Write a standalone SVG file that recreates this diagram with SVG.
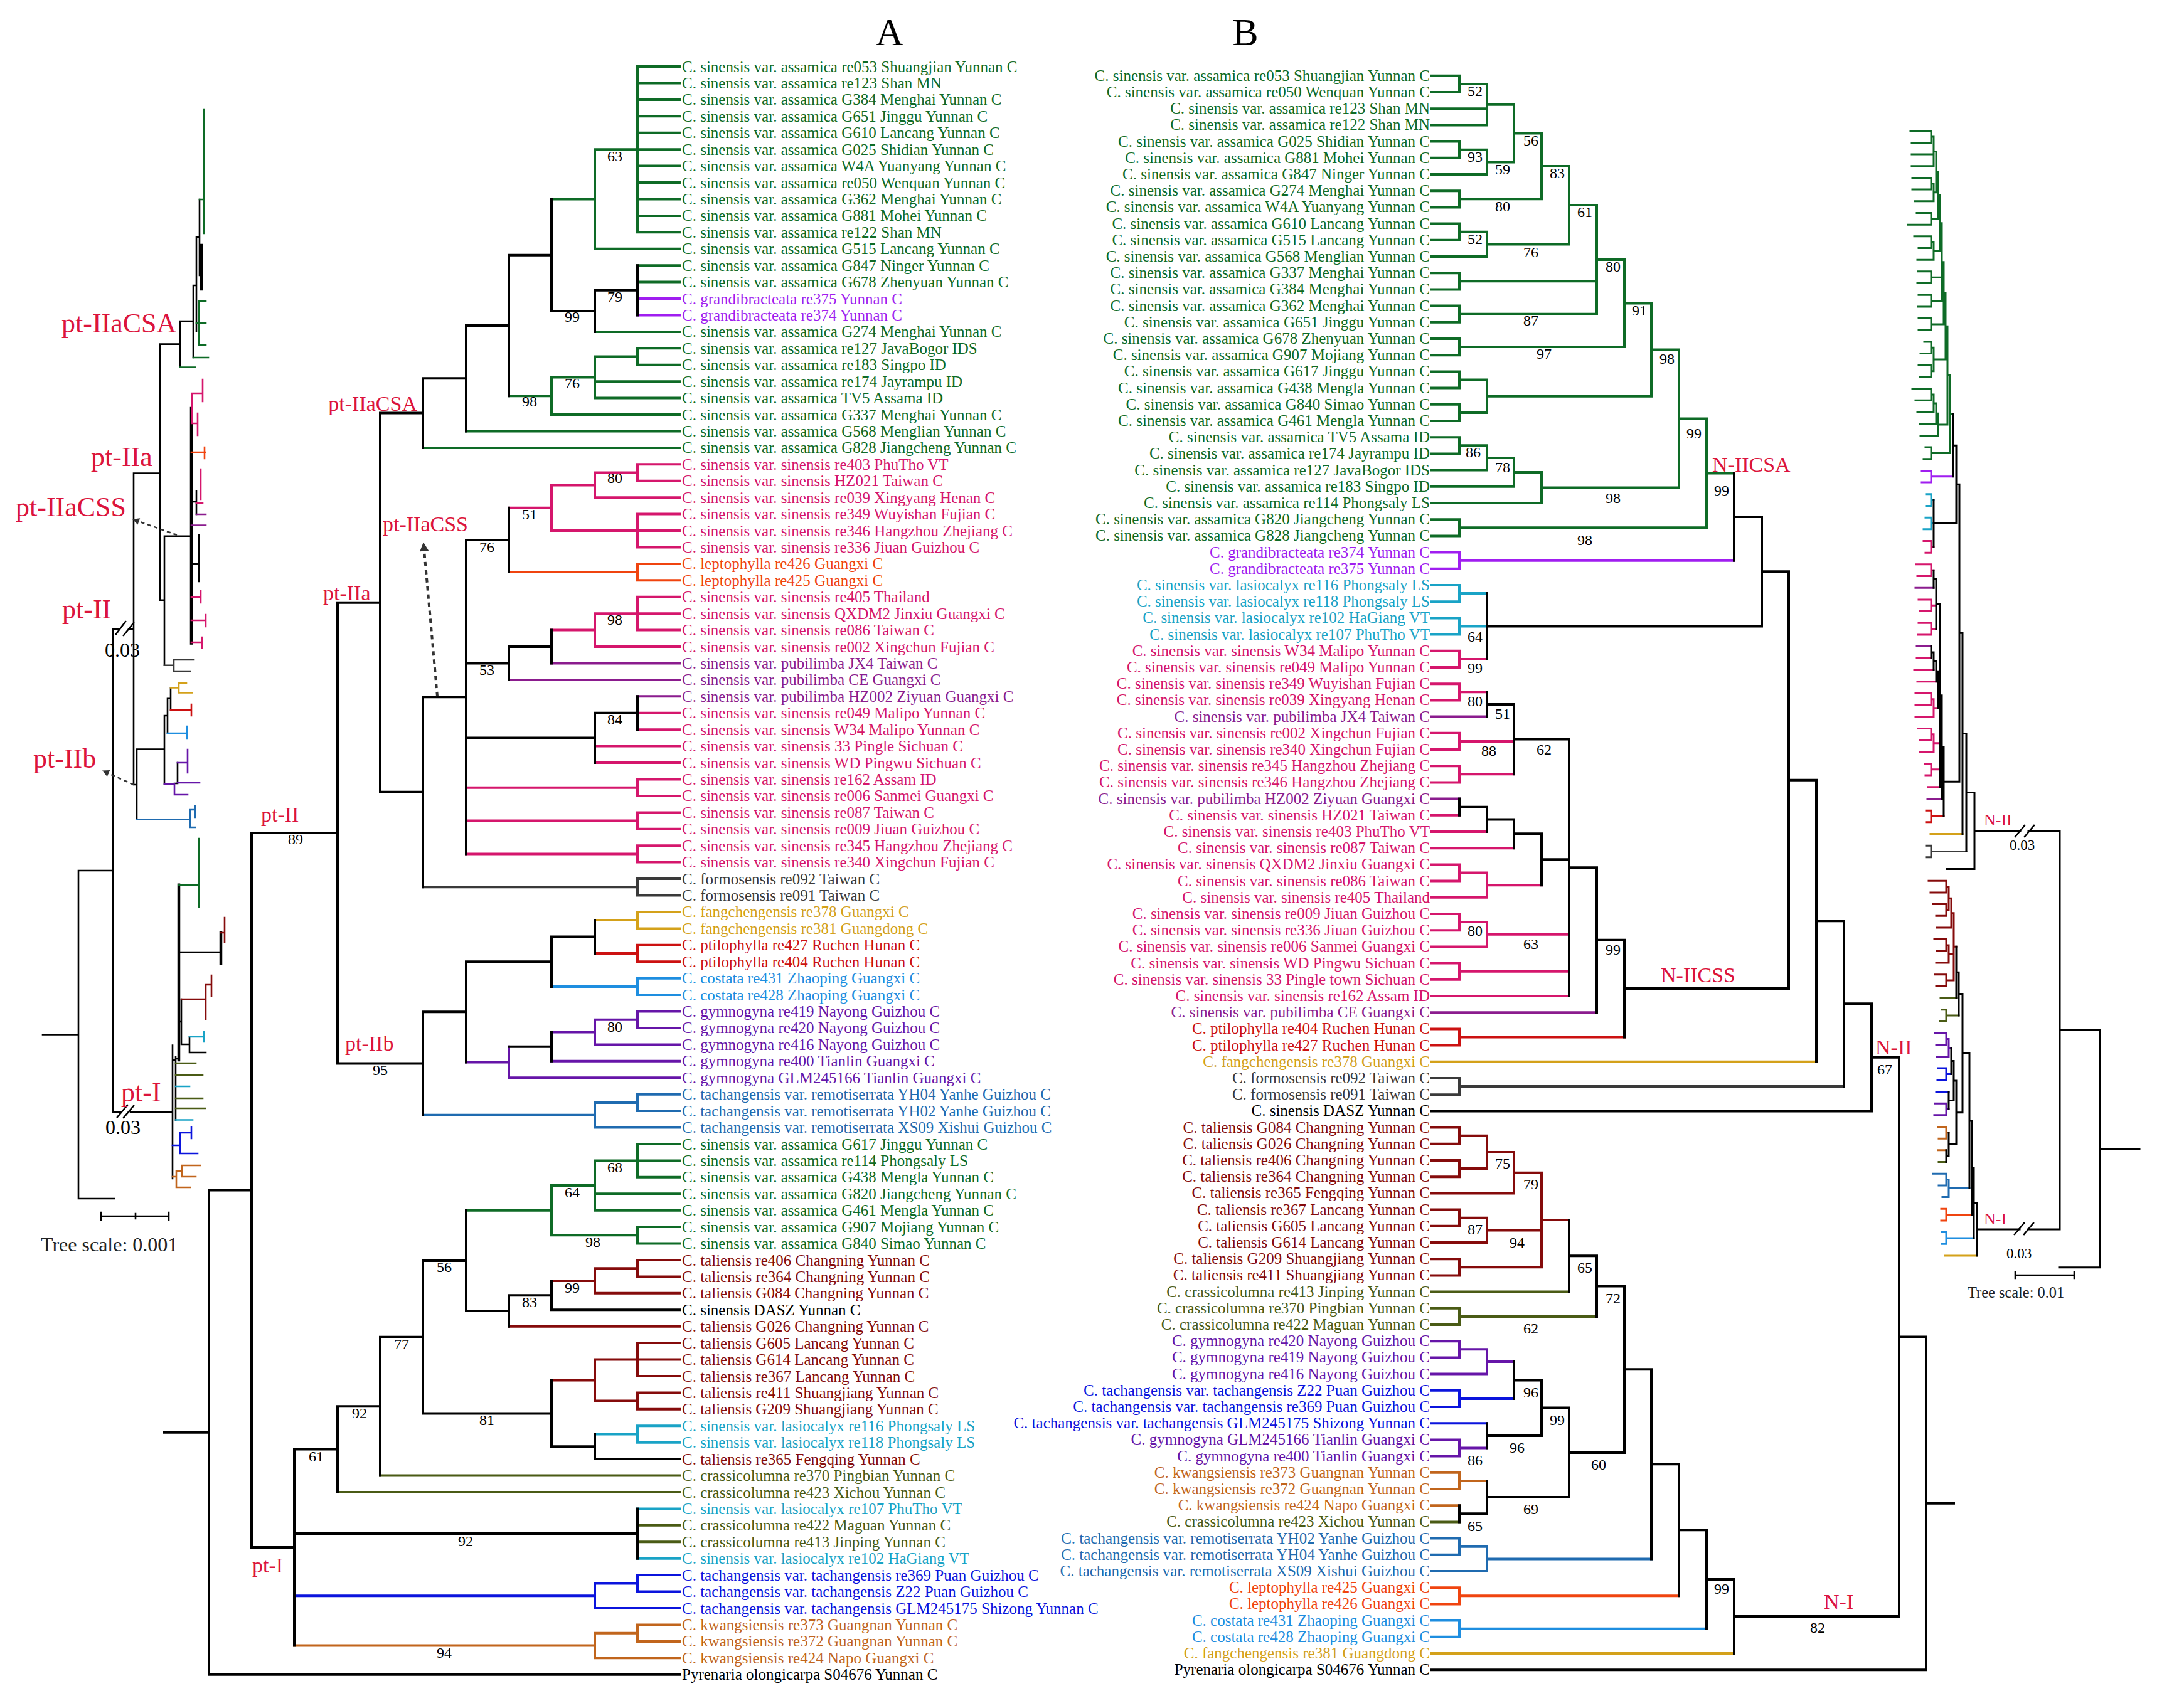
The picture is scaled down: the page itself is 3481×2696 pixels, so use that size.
<svg xmlns="http://www.w3.org/2000/svg" width="3481" height="2696" viewBox="0 0 3481 2696">
<defs>
<style>
path{fill:none;stroke-linecap:square;stroke-linejoin:miter}
.tr path{stroke-width:4}
.th path{stroke-width:3;vector-effect:non-scaling-stroke}
.tl path{stroke-width:2.6}
.sg{stroke:#0e6b26}.spu{stroke:#a01ef0}.spk{stroke:#d5166c}.spb{stroke:#8b1c8e}.sor{stroke:#f0440f}.sdg{stroke:#3a3a3a}.sgo{stroke:#d4a11a}.srd{stroke:#cc1111}.slb{stroke:#1e8ee0}.sgy{stroke:#6615a8}.ssb{stroke:#1f6bb0}.sdr{stroke:#850b0b}.scy{stroke:#19a3c6}.sol{stroke:#4a5b15}.sbl{stroke:#0b14dd}.sbr{stroke:#c1651c}.sk{stroke:#000}
.fg{fill:#0e6b26}.fpu{fill:#a01ef0}.fpk{fill:#d5166c}.fpb{fill:#8b1c8e}.for{fill:#f0440f}.fdg{fill:#3a3a3a}.fgo{fill:#d4a11a}.frd{fill:#cc1111}.flb{fill:#1e8ee0}.fgy{fill:#6615a8}.fsb{fill:#1f6bb0}.fdr{fill:#850b0b}.fcy{fill:#19a3c6}.fol{fill:#4a5b15}.fbl{fill:#0b14dd}.fbr{fill:#c1651c}.fk{fill:#000}
text{font-family:"Liberation Serif","Times New Roman",serif}
.t text{font-size:25px}
.ta text{text-anchor:start}
.tb text{text-anchor:end}
.bs text{font-size:24px;text-anchor:middle;fill:#000}
.cl text{font-size:34px;fill:#dc143c}
.cs text{font-size:44px;fill:#dc143c}
.ar{stroke:#333;stroke-width:3;stroke-dasharray:7 6;stroke-linecap:butt}
</style>
<marker id="ah" viewBox="0 0 10 10" refX="9" refY="5" markerWidth="18" markerHeight="14" markerUnits="userSpaceOnUse" orient="auto"><path d="M0 0L10 5L0 10z" style="fill:#333;stroke:none"/></marker>
<marker id="ah2" viewBox="0 0 10 10" refX="9" refY="5" markerWidth="13" markerHeight="11" markerUnits="userSpaceOnUse" orient="auto"><path d="M0 0L10 5L0 10z" style="fill:#333;stroke:none"/></marker>
</defs>
<rect width="3481" height="2696" fill="#fff"/>

<g id="headings" font-size="62"><text x="1418" y="72" text-anchor="middle">A</text><text x="1985" y="72" text-anchor="middle">B</text></g>

<g id="connectors">
<g id="treeA-branches" class="tr">
<path class="sg" d="M1016 106V370.3M948 238.2V396.7M1016 555.3V581.7M948 568.5V634.6M879 601.6V661M1016 1824V1876.8M948 1850.4V1929.7M1016 1956.1V1982.5M879 1890.1V1969.3M1016 106H1084M1016 132.4H1084M1016 158.9H1084M1016 185.3H1084M1016 211.7H1084M1016 238.2H1084M1016 264.6H1084M1016 291H1084M1016 317.4H1084M1016 343.9H1084M1016 370.3H1084M948 238.2H1016M948 396.7H1084M879 317.4H948M1016 423.2H1084M1016 449.6H1084M948 528.9H1084M1016 555.3H1084M1016 581.7H1084M948 568.5H1016M948 608.2H1084M948 634.6H1084M879 601.6H948M879 661H1084M811 631.3H879M743 687.5H1084M674 713.9H1084M1016 1824H1084M1016 1850.4H1084M1016 1876.8H1084M948 1850.4H1016M948 1903.2H1084M948 1929.7H1084M879 1890.1H948M1016 1956.1H1084M1016 1982.5H1084M879 1969.3H1016M743 1929.7H879"/>
<path class="spu" d="M1016 476H1084M1016 502.5H1084"/>
<path class="spk" d="M1016 740.3V766.8M948 753.5V793.2M1016 819.6V872.5M879 773.4V846M1016 951.8V1004.6M948 978.2V1031.1M1016 1242.5V1268.9M1016 1295.4V1321.8M1016 1348.2V1374.6M1016 740.3H1084M1016 766.8H1084M948 753.5H1016M948 793.2H1084M879 773.4H948M1016 819.6H1084M1016 846H1084M1016 872.5H1084M879 846H1016M811 809.7H879M1016 951.8H1084M1016 978.2H1084M1016 1004.6H1084M948 978.2H1016M948 1031.1H1084M879 1004.6H948M1016 1136.8H1084M1016 1163.2H1084M948 1189.6H1084M948 1216.1H1084M1016 1242.5H1084M1016 1268.9H1084M743 1255.7H1016M1016 1295.4H1084M1016 1321.8H1084M743 1308.6H1016M1016 1348.2H1084M1016 1374.6H1084M743 1361.4H1016"/>
<path class="sor" d="M1016 898.9V925.3M1016 898.9H1084M1016 925.3H1084M811 912.1H1016"/>
<path class="spb" d="M879 1057.5H1084M811 1083.9H1084M1016 1110.3H1084"/>
<path class="sdg" d="M1016 1401.1V1427.5M1016 1401.1H1084M1016 1427.5H1084M674 1414.3H1016"/>
<path class="sgo" d="M1016 1453.9V1480.4M1016 1453.9H1084M1016 1480.4H1084M948 1467.1H1016"/>
<path class="srd" d="M1016 1506.8V1533.2M1016 1506.8H1084M1016 1533.2H1084M948 1520H1016"/>
<path class="slb" d="M1016 1559.7V1586.1M1016 1559.7H1084M1016 1586.1H1084M879 1572.9H1016"/>
<path class="sgy" d="M1016 1612.5V1638.9M948 1625.7V1665.4M811 1668.7V1718.2M1016 1612.5H1084M1016 1638.9H1084M948 1625.7H1016M948 1665.4H1084M879 1645.6H948M879 1691.8H1084M811 1718.2H1084M743 1693.5H811"/>
<path class="ssb" d="M1016 1744.7V1771.1M948 1757.9V1797.5M1016 1744.7H1084M1016 1771.1H1084M948 1757.9H1016M948 1797.5H1084M674 1777.7H948"/>
<path class="sdr" d="M1016 2009V2035.4M948 2022.2V2061.8M1016 2141.1V2194M1016 2220.4V2246.8M948 2167.6V2233.6M1016 2009H1084M1016 2035.4H1084M948 2022.2H1016M948 2061.8H1084M879 2042H948M811 2114.7H1084M1016 2141.1H1084M1016 2167.5H1084M1016 2194H1084M948 2167.6H1016M1016 2220.4H1084M1016 2246.8H1084M948 2233.6H1016M879 2200.6H948"/>
<path class="scy" d="M1016 2273.3V2299.7M1016 2273.3H1084M1016 2299.7H1084M948 2286.5H1016M1016 2405.4H1084M1016 2484.7H1084"/>
<path class="sol" d="M606 2352.6H1084M538 2379H1084M1016 2431.8H1084M1016 2458.3H1084"/>
<path class="sbl" d="M1016 2511.1V2537.6M948 2524.4V2564M1016 2511.1H1084M1016 2537.6H1084M948 2524.4H1016M948 2564H1084M469 2544.2H948"/>
<path class="sbr" d="M1016 2590.4V2616.9M948 2603.7V2643.3M1016 2590.4H1084M1016 2616.9H1084M948 2603.7H1016M948 2643.3H1084M469 2623.5H948"/>
<path class="sk" d="M1016 423.2V502.5M948 462.8V528.9M879 317.4V495.9M811 406.7V631.3M743 519V687.5M674 603.3V713.9M811 809.7V912.1M879 1004.6V1057.5M811 1031.1V1083.9M1016 1110.3V1163.2M948 1136.8V1216.1M743 860.9V1361.4M674 1111.2V1414.3M606 658.6V1262.7M948 1467.1V1520M879 1493.6V1572.9M879 1645.6V1691.8M743 1533.2V1693.5M674 1613.3V1777.7M538 960.7V1695.5M879 2042V2088.3M811 2065.2V2114.7M743 1929.7V2090M948 2286.5V2326.1M879 2200.6V2306.3M674 2009.9V2253.5M606 2131.7V2352.6M538 2242.2V2379M1016 2405.4V2484.7M469 2310.6V2623.5M401 1328.1V2467.1M333 1897.6V2669.7M948 462.8H1016M879 495.9H948M811 406.7H879M743 519H811M674 603.3H743M606 658.6H674M743 860.9H811M811 1031.1H879M743 1057.5H811M948 1136.8H1016M743 1176.4H948M674 1111.2H743M606 1262.7H674M538 960.7H606M879 1493.6H948M743 1533.2H879M811 1668.7H879M674 1613.3H743M538 1695.5H674M401 1328.1H538M811 2065.2H879M743 2090H811M674 2009.9H743M879 2306.3H948M674 2253.5H879M606 2131.7H674M538 2242.2H606M469 2310.6H538M469 2445.1H1016M401 2467.1H469M333 1897.6H401M879 2088.3H1084M948 2326.1H1084M333 2669.7H1084M262 2283.7H333"/>
<path class="ar" d="M697 1110L675 866" marker-end="url(#ah)"/>
</g>

<g id="treeB-branches" class="tr">
<path class="sg" d="M2326 120.8V147M2370 133.9V199.4M2326 225.6V251.8M2370 238.7V278M2413 166.7V258.4M2326 304.2V330.4M2457 212.5V317.3M2326 356.6V382.8M2370 369.7V409M2501 264.9V389.4M2326 435.2V461.4M2326 487.6V513.8M2545 327.1V500.7M2326 540V566.2M2589 413.9V553.1M2326 592.4V618.6M2326 644.8V671M2370 605.5V657.9M2632 483.5V631.7M2326 697.2V723.4M2370 710.3V749.6M2413 730V775.8M2457 752.9V802M2676 557.6V777.5M2326 828.2V854.4M2720 667.5V841.3M2282 120.8H2326M2282 147H2326M2282 173.2H2370M2282 199.4H2370M2282 225.6H2326M2282 251.8H2326M2282 278H2370M2282 304.2H2326M2282 330.4H2326M2282 356.6H2326M2282 382.8H2326M2282 409H2370M2282 435.2H2326M2282 461.4H2326M2282 487.6H2326M2282 513.8H2326M2282 540H2326M2282 566.2H2326M2282 592.4H2326M2282 618.6H2326M2282 644.8H2326M2282 671H2326M2282 697.2H2326M2282 723.4H2326M2282 749.6H2370M2282 775.8H2413M2282 802H2457M2282 828.2H2326M2282 854.4H2326M2326 133.9H2370M2370 166.7H2413M2326 238.7H2370M2370 258.4H2413M2413 212.5H2457M2326 317.3H2457M2457 264.9H2501M2326 369.7H2370M2370 389.4H2501M2501 327.1H2545M2326 448.3H2545M2326 500.7H2545M2545 413.9H2589M2326 553.1H2589M2589 483.5H2632M2326 605.5H2370M2326 657.9H2370M2370 631.7H2632M2632 557.6H2676M2326 710.3H2370M2370 730H2413M2413 752.9H2457M2457 777.5H2676M2676 667.5H2720M2326 841.3H2720M2720 754.4H2764"/>
<path class="spu" d="M2326 880.6V906.8M2282 880.6H2326M2282 906.8H2326M2326 893.7H2764"/>
<path class="scy" d="M2326 933V959.2M2326 985.4V1011.6M2282 933H2326M2282 959.2H2326M2282 985.4H2326M2282 1011.6H2326M2326 946.1H2370M2326 998.5H2370"/>
<path class="spk" d="M2326 1037.8V1064M2282 1037.8H2326M2282 1064H2326M2326 1050.9H2370M2326 1090.2V1116.4M2282 1090.2H2326M2282 1116.4H2326M2326 1103.3H2370M2326 1168.8V1195M2282 1168.8H2326M2282 1195H2326M2326 1181.9H2413M2326 1221.2V1247.4M2282 1221.2H2326M2282 1247.4H2326M2326 1234.3H2413M2282 1299.8H2326M2282 1326H2370M2282 1352.2H2413M2326 1378.4V1404.6M2370 1391.5V1430.8M2282 1378.4H2326M2282 1404.6H2326M2282 1430.8H2370M2326 1391.5H2370M2370 1411.2H2457M2326 1457V1483.2M2370 1470.1V1509.4M2282 1457H2326M2282 1483.2H2326M2282 1509.4H2370M2326 1470.1H2370M2370 1489.8H2501M2326 1535.6V1561.8M2282 1535.6H2326M2282 1561.8H2326M2326 1548.7H2501M2282 1588H2501"/>
<path class="spb" d="M2282 1142.6H2370M2282 1273.6H2326M2282 1614.2H2545"/>
<path class="srd" d="M2326 1640.4V1666.6M2282 1640.4H2326M2282 1666.6H2326M2326 1653.5H2589"/>
<path class="sgo" d="M2282 1692.8H2895M2282 2636H2764"/>
<path class="sdg" d="M2326 1719V1745.2M2282 1719H2326M2282 1745.2H2326M2326 1732.1H2939"/>
<path class="sdr" d="M2326 1797.6V1823.8M2326 1850V1876.2M2370 1810.7V1863.1M2413 1836.9V1902.4M2326 1928.6V1954.8M2370 1941.7V1981M2326 2007.2V2033.4M2457 1869.7V2020.3M2282 1797.6H2326M2282 1823.8H2326M2282 1850H2326M2282 1876.2H2326M2326 1810.7H2370M2326 1863.1H2370M2370 1836.9H2413M2282 1902.4H2413M2413 1869.7H2457M2282 1928.6H2326M2282 1954.8H2326M2326 1941.7H2370M2282 1981H2370M2370 1961.4H2457M2282 2007.2H2326M2282 2033.4H2326M2326 2020.3H2457M2457 1945H2501"/>
<path class="sol" d="M2282 2059.6H2501M2326 2085.8V2112M2282 2085.8H2326M2282 2112H2326M2326 2098.9H2545M2282 2426.4H2326"/>
<path class="sgy" d="M2326 2138.2V2164.4M2370 2151.3V2190.6M2282 2138.2H2326M2282 2164.4H2326M2326 2151.3H2370M2282 2190.6H2370M2370 2171H2413M2326 2295.4V2321.6M2282 2295.4H2326M2282 2321.6H2326M2326 2308.5H2370"/>
<path class="sbl" d="M2326 2216.8V2243M2282 2216.8H2326M2282 2243H2326M2326 2229.9H2413M2282 2269.2H2370"/>
<path class="sbr" d="M2326 2347.8V2374M2282 2347.8H2326M2282 2374H2326M2326 2360.9H2370M2282 2400.2H2326"/>
<path class="ssb" d="M2326 2452.6V2478.8M2370 2465.7V2505M2282 2452.6H2326M2282 2478.8H2326M2326 2465.7H2370M2282 2505H2370M2370 2485.4H2632"/>
<path class="sor" d="M2326 2531.2V2557.4M2282 2531.2H2326M2282 2557.4H2326M2326 2544.3H2676"/>
<path class="slb" d="M2326 2583.6V2609.8M2282 2583.6H2326M2282 2609.8H2326M2326 2596.7H2720"/>
<path class="sk" d="M2764 754.4V893.7M2370 946.1V1050.9M2808 824.1V998.5M2370 1103.3V1142.6M2413 1123V1234.3M2326 1273.6V1299.8M2370 1286.7V1326M2413 1306.4V1352.2M2457 1329.3V1411.2M2501 1178.6V1588M2545 1383.3V1614.2M2589 1498.8V1653.5M2851 911.3V1576.1M2895 1243.7V1692.8M2939 1468.3V1732.1M2983 1600.2V1771.4M2501 1945V2059.6M2545 2002.3V2098.9M2413 2171V2229.9M2370 2269.2V2308.5M2457 2200.4V2288.9M2326 2400.2V2426.4M2370 2360.9V2413.3M2501 2244.6V2387.1M2589 2050.6V2315.9M2632 2183.2V2485.4M2676 2334.3V2544.3M2720 2439.3V2596.7M2764 2518V2636M3027 1685.8V2577M3070 2131.4V2662.2M2764 824.1H2808M2370 998.5H2808M2808 911.3H2851M2370 1123H2413M2413 1178.6H2501M2326 1286.7H2370M2370 1306.4H2413M2413 1329.3H2457M2457 1370.2H2501M2501 1383.3H2545M2545 1498.8H2589M2589 1576.1H2851M2851 1243.7H2895M2895 1468.3H2939M2939 1600.2H2983M2282 1771.4H2983M2983 1685.8H3027M2501 2002.3H2545M2545 2050.6H2589M2413 2200.4H2457M2370 2288.9H2457M2457 2244.6H2501M2326 2413.3H2370M2370 2387.1H2501M2501 2315.9H2589M2589 2183.2H2632M2632 2334.3H2676M2676 2439.3H2720M2720 2518H2764M2764 2577H3027M3027 2131.4H3070M2282 2662.2H3070M3070 2396.8H3114"/>
</g>

<g id="thumb-right-branches" class="th" transform="matrix(1 0 0 0.71298 0 122.57)">
<path class="sg" d="M3078 120.8V147M3082 133.9V199.4M3078 225.6V251.8M3082 238.7V278M3086 166.7V258.4M3078 304.2V330.4M3089 212.5V317.3M3078 356.6V382.8M3082 369.7V409M3092 264.9V389.4M3078 435.2V461.4M3078 487.6V513.8M3095 327.1V500.7M3078 540V566.2M3098 413.9V553.1M3078 592.4V618.6M3078 644.8V671M3082 605.5V657.9M3101 483.5V631.7M3078 697.2V723.4M3082 710.3V749.6M3086 730V775.8M3089 752.9V802M3104 557.6V777.5M3078 828.2V854.4M3108 667.5V841.3M3045 120.8H3078M3047 147H3078M3047 173.2H3082M3047 199.4H3082M3048 225.6H3078M3048 251.8H3078M3052 278H3082M3055 304.2H3078M3041 330.4H3078M3051 356.6H3078M3058 382.8H3078M3056 409H3082M3057 435.2H3078M3056 461.4H3078M3058 487.6H3078M3057 513.8H3078M3058 540H3078M3058 566.2H3078M3067 592.4H3078M3061 618.6H3078M3058 644.8H3078M3060 671H3078M3048 697.2H3078M3053 723.4H3078M3056 749.6H3082M3060 775.8H3086M3061 802H3089M3069 828.2H3078M3066 854.4H3078M3078 133.9H3082M3082 166.7H3086M3078 238.7H3082M3082 258.4H3086M3086 212.5H3089M3078 317.3H3089M3089 264.9H3092M3078 369.7H3082M3082 389.4H3092M3092 327.1H3095M3078 448.3H3095M3078 500.7H3095M3095 413.9H3098M3078 553.1H3098M3098 483.5H3101M3078 605.5H3082M3078 657.9H3082M3082 631.7H3101M3101 557.6H3104M3078 710.3H3082M3082 730H3086M3086 752.9H3089M3089 777.5H3104M3104 667.5H3108M3078 841.3H3108M3108 754.4H3113"/>
<path class="spu" d="M3078 880.6V906.8M3063 880.6H3078M3063 906.8H3078M3078 893.7H3113"/>
<path class="scy" d="M3078 933V959.2M3078 985.4V1011.6M3070 933H3078M3070 959.2H3078M3069 985.4H3078M3066 1011.6H3078M3078 946.1H3082M3078 998.5H3082"/>
<path class="spk" d="M3078 1037.8V1064M3066 1037.8H3078M3069 1064H3078M3078 1050.9H3082M3078 1090.2V1116.4M3054 1090.2H3078M3056 1116.4H3078M3078 1103.3H3082M3078 1168.8V1195M3058 1168.8H3078M3060 1195H3078M3078 1181.9H3086M3078 1221.2V1247.4M3058 1221.2H3078M3057 1247.4H3078M3078 1234.3H3086M3055 1299.8H3078M3051 1326H3082M3056 1352.2H3086M3078 1378.4V1404.6M3082 1391.5V1430.8M3053 1378.4H3078M3053 1404.6H3078M3053 1430.8H3082M3078 1391.5H3082M3082 1411.2H3089M3078 1457V1483.2M3082 1470.1V1509.4M3057 1457H3078M3060 1483.2H3078M3060 1509.4H3082M3078 1470.1H3082M3082 1489.8H3092M3078 1535.6V1561.8M3068 1535.6H3078M3069 1561.8H3078M3078 1548.7H3092M3073 1588H3092"/>
<path class="spb" d="M3053 1142.6H3082M3055 1273.6H3078M3072 1614.2H3095"/>
<path class="srd" d="M3078 1640.4V1666.6M3070 1640.4H3078M3070 1666.6H3078M3078 1653.5H3098"/>
<path class="sgo" d="M3077 1692.8H3128M3100 2636H3151"/>
<path class="sdg" d="M3078 1719V1745.2M3070 1719H3078M3070 1745.2H3078M3078 1732.1H3134"/>
<path class="sdr" d="M3102 1797.6V1823.8M3102 1850V1876.2M3106 1810.7V1863.1M3110 1836.9V1902.4M3102 1928.6V1954.8M3106 1941.7V1981M3102 2007.2V2033.4M3114 1869.7V2020.3M3074 1797.6H3102M3077 1823.8H3102M3081 1850H3102M3086 1876.2H3102M3102 1810.7H3106M3102 1863.1H3106M3106 1836.9H3110M3087 1902.4H3110M3110 1869.7H3114M3083 1928.6H3102M3087 1954.8H3102M3102 1941.7H3106M3086 1981H3106M3106 1961.4H3114M3084 2007.2H3102M3086 2033.4H3102M3102 2020.3H3114M3114 1945H3118"/>
<path class="sol" d="M3093 2059.6H3118M3102 2085.8V2112M3095 2085.8H3102M3092 2112H3102M3102 2098.9H3122M3090 2426.4H3102"/>
<path class="sgy" d="M3102 2138.2V2164.4M3106 2151.3V2190.6M3084 2138.2H3102M3086 2164.4H3102M3102 2151.3H3106M3087 2190.6H3106M3106 2171H3110M3102 2295.4V2321.6M3084 2295.4H3102M3083 2321.6H3102M3102 2308.5H3106"/>
<path class="sbl" d="M3102 2216.8V2243M3089 2216.8H3102M3088 2243H3102M3102 2229.9H3110M3086 2269.2H3106"/>
<path class="sbr" d="M3102 2347.8V2374M3089 2347.8H3102M3090 2374H3102M3102 2360.9H3106M3089 2400.2H3102"/>
<path class="ssb" d="M3102 2452.6V2478.8M3106 2465.7V2505M3081 2452.6H3102M3090 2478.8H3102M3102 2465.7H3106M3096 2505H3106M3106 2485.4H3139"/>
<path class="sor" d="M3102 2531.2V2557.4M3094 2531.2H3102M3094 2557.4H3102M3102 2544.3H3143"/>
<path class="slb" d="M3102 2583.6V2609.8M3095 2583.6H3102M3095 2609.8H3102M3102 2596.7H3146"/>
<path class="sk" d="M3113 754.4V893.7M3113 824.1H3118M3082 946.1V1050.9M3082 998.5H3118M3118 824.1V998.5M3118 911.3H3123M3082 1103.3V1142.6M3082 1123H3086M3086 1123V1234.3M3086 1178.6H3092M3078 1273.6V1299.8M3078 1286.7H3082M3082 1286.7V1326M3082 1306.4H3086M3086 1306.4V1352.2M3086 1329.3H3089M3089 1329.3V1411.2M3089 1370.2H3092M3092 1178.6V1588M3092 1383.3H3095M3095 1383.3V1614.2M3095 1498.8H3098M3098 1498.8V1653.5M3098 1576.1H3123M3123 911.3V1576.1M3123 1243.7H3128M3128 1243.7V1692.8M3128 1468.3H3134M3134 1468.3V1732.1M3134 1600.2H3147M3103 1771.4H3147M3147 1600.2V1771.4M3118 1945V2059.6M3118 2002.3H3122M3122 2002.3V2098.9M3122 2050.6H3128M3110 2171V2229.9M3110 2200.4H3114M3106 2269.2V2308.5M3106 2288.9H3114M3114 2200.4V2288.9M3114 2244.6H3118M3102 2400.2V2426.4M3102 2413.3H3106M3106 2360.9V2413.3M3106 2387.1H3118M3118 2244.6V2387.1M3118 2315.9H3128M3128 2050.6V2315.9M3128 2183.2H3139M3139 2183.2V2485.4M3139 2334.3H3143M3143 2334.3V2544.3M3143 2439.3H3146M3146 2439.3V2596.7M3146 2518H3151M3151 2518V2636M3147 1685.8H3220M3233 1685.8H3283M3151 2577H3219M3232 2577H3283M3283 1685.8V2577M3283 2131.4H3347M3282 2662.2H3347M3347 2131.4V2662.2M3347 2396.8H3410"/>
</g>
<g id="thumb-right-marks" class="tl">
<path class="sk" d="M3212 1334L3227 1316M3227 1334L3242 1316M3211 1968L3226 1950M3226 1968L3241 1950M3212 2033H3306M3212 2028V2038M3306 2028V2038"/>
</g>

<g id="thumb-left-branches" class="tl">
<path class="sk" d="M68 1649.5H125M125 1388V1911M125 1388H180M125 1911H182M180 1003V1773M180 1003H189M205 1003H213M180 1773H192M208 1773H275M213 754.6V1251M213 754.6H255M213 1251H218M255 548.6V956.7M255 548.6H287M255 956.7H262M287 512V585.6M287 512H308M308 455V570M308 455H313M313 378V528M313 378H318M318 318V439M262 854.7V1060.7M262 854.7H305M313 783V820M305 800H313M317 853V927M305 899H317M218 1194.5V1306.6M218 1194.5H262M262 1141V1249.6M262 1141H267M267 1113.7V1169M267 1113.7H272M272 1096.5V1132M283 1216V1249M278 1249H283M275 1666.6V1879M275 1690H280M280 1685V1786M280 1688H285M285 1518H352M285 1629H289M289 1593V1665M289 1665H302M302 1653V1678M302 1678H328M161 1939H269M161 1933V1945M269 1933V1945M216 1935V1943M185 1011L200 991M197 1013L213 993M187 1781L203 1762M197 1782L213 1763"/>
<path class="sk" style="stroke-width:4.5" d="M305 651V1025.6M285 1410.7V1690M321 391V461M352 1487V1536"/>
<path class="sg" d="M318 318H325M325 174V372M313 515H317M317 480V550M317 480H328M317 515H328M317 550H328M308 570H332M287 585.6H311M285 1410.7H316M317 1337V1446"/>
<path class="spk" d="M306 627V675M306 627H323M323 605V640M306 675H315M315 659V694M320 748V796M313 802H323M305 952H320M320 942V961M305 989H328M328 980V999M305 1024H322M322 1016V1033"/>
<path class="sor" d="M305 721H327M326 713V731"/>
<path class="spb" d="M313 820H328M305 837.5H328"/>
<path class="sdg" d="M262 1060.7H277M277 1052V1070M277 1052H309M277 1070H303"/>
<path class="sgo" d="M272 1096.5H285M285 1089V1104.5M285 1089H297M285 1104.5H306"/>
<path class="srd" d="M272 1132H305M305 1123V1141"/>
<path class="slb" d="M267 1169H298M298 1158V1178"/>
<path class="sgy" d="M262 1249.6H278M278 1249.6V1267M278 1267H299M283 1216H298M299 1195V1232M283 1248H318"/>
<path class="ssb" d="M218 1306.6H303M303 1291V1319M303 1291H311M311 1285V1303M303 1319H311"/>
<path class="sdr" d="M352 1487H358M358 1463V1502M289 1593H327M328 1570V1625M328 1570H337M337 1555V1588"/>
<path class="scy" d="M302 1653H325M325 1645V1661M280 1732H302M280 1785.5H307"/>
<path class="sol" d="M280 1695H312M280 1714H323M280 1751H323M280 1767H327"/>
<path class="sbl" d="M275 1826H287M287 1806V1839M287 1806H305M305 1797V1815M287 1839H315"/>
<path class="sbr" d="M275 1876H281M281 1867V1893M281 1893H303M281 1867H290M290 1858V1876M290 1858H319M290 1876H312"/>
<path class="ar" style="stroke-width:2.5;stroke-dasharray:6 5" d="M282 853L212 828" marker-end="url(#ah2)"/>
<path class="ar" style="stroke-width:2.5;stroke-dasharray:6 5" d="M213 1251L164 1229" marker-end="url(#ah2)"/>
</g>
</g>

<g id="thumb-left-labels">
<g class="cs"><text x="98" y="530">pt-IIaCSA</text><text x="145" y="743">pt-IIa</text><text x="25" y="823">pt-IIaCSS</text><text x="99" y="986">pt-II</text><text x="53" y="1224">pt-IIb</text><text x="193" y="1756">pt-I</text></g>
<text x="167" y="1047" font-size="32">0.03</text>
<text x="168" y="1808" font-size="32">0.03</text>
<text x="65" y="1995" font-size="32" fill="#222">Tree scale: 0.001</text>
</g>
<g id="thumb-right-labels">
<text x="3162" y="1316" font-size="26" fill="#dc143c">N-II</text>
<text x="3162" y="1952" font-size="26" fill="#dc143c">N-I</text>
<text x="3203" y="1355" font-size="23">0.03</text>
<text x="3198" y="2006" font-size="23">0.03</text>
<text x="3136" y="2069" font-size="24.4" fill="#222">Tree scale: 0.01</text>
</g>

<g id="treeA-clades" class="cl">
<text x="665" y="655" text-anchor="end">pt-IIaCSA</text>
<text x="610" y="847">pt-IIaCSS</text>
<text x="515" y="957">pt-IIa</text>
<text x="416" y="1310">pt-II</text>
<text x="550" y="1675">pt-IIb</text>
<text x="402" y="2507">pt-I</text>
</g>
<g id="treeB-clades" class="cl">
<text x="2729" y="752">N-IICSA</text>
<text x="2647" y="1566">N-IICSS</text>
<text x="2989" y="1681">N-II</text>
<text x="2907" y="2565">N-I</text>
</g>

<g id="treeA-support" class="bs">
<text x="980" y="257">63</text><text x="980" y="481">79</text><text x="912" y="513">99</text><text x="912" y="619">76</text><text x="844" y="648">98</text><text x="980" y="770">80</text><text x="844" y="828">51</text><text x="776" y="880">76</text><text x="980" y="996">98</text><text x="776" y="1076">53</text><text x="980" y="1155">84</text><text x="471" y="1346">89</text><text x="980" y="1645">80</text><text x="606" y="1714">95</text><text x="980" y="1869">68</text><text x="912" y="1909">64</text><text x="945" y="1988">98</text><text x="708" y="2028">56</text><text x="912" y="2061">99</text><text x="844" y="2084">83</text><text x="640" y="2151">77</text><text x="776" y="2272">81</text><text x="573" y="2261">92</text><text x="504" y="2330">61</text><text x="742" y="2465">92</text><text x="708" y="2643">94</text>
</g>
<g id="treeB-support" class="bs">
<text x="2351" y="153">52</text><text x="2351" y="258">93</text><text x="2395" y="278">59</text><text x="2440" y="232">56</text><text x="2395" y="337">80</text><text x="2482" y="284">83</text><text x="2351" y="389">52</text><text x="2440" y="410">76</text><text x="2526" y="346">61</text><text x="2440" y="519">87</text><text x="2571" y="433">80</text><text x="2461" y="572">97</text><text x="2613" y="503">91</text><text x="2657" y="580">98</text><text x="2348" y="729">86</text><text x="2395" y="753">78</text><text x="2571" y="802">98</text><text x="2700" y="699">99</text><text x="2526" y="869">98</text><text x="2744" y="790">99</text><text x="2351" y="1023">64</text><text x="2351" y="1073">99</text><text x="2351" y="1126">80</text><text x="2395" y="1146">51</text><text x="2373" y="1205">88</text><text x="2461" y="1203">62</text><text x="2351" y="1492">80</text><text x="2440" y="1513">63</text><text x="2571" y="1522">99</text><text x="3004" y="1713">67</text><text x="2395" y="1863">75</text><text x="2440" y="1896">79</text><text x="2351" y="1968">87</text><text x="2418" y="1989">94</text><text x="2526" y="2029">65</text><text x="2440" y="2126">62</text><text x="2571" y="2078">72</text><text x="2440" y="2228">96</text><text x="2418" y="2316">96</text><text x="2351" y="2336">86</text><text x="2482" y="2272">99</text><text x="2351" y="2441">65</text><text x="2440" y="2414">69</text><text x="2548" y="2343">60</text><text x="2744" y="2541">99</text><text x="2897" y="2603">82</text>
</g>

<g id="treeA-leaves" class="t ta">
<g id="A01" class="fg"><text x="1087" y="114.5">C. sinensis var. assamica re053 Shuangjian Yunnan C</text></g>
<g id="A02" class="fg"><text x="1087" y="140.9">C. sinensis var. assamica re123 Shan MN</text></g>
<g id="A03" class="fg"><text x="1087" y="167.4">C. sinensis var. assamica G384 Menghai Yunnan C</text></g>
<g id="A04" class="fg"><text x="1087" y="193.8">C. sinensis var. assamica G651 Jinggu Yunnan C</text></g>
<g id="A05" class="fg"><text x="1087" y="220.2">C. sinensis var. assamica G610 Lancang Yunnan C</text></g>
<g id="A06" class="fg"><text x="1087" y="246.7">C. sinensis var. assamica G025 Shidian Yunnan C</text></g>
<g id="A07" class="fg"><text x="1087" y="273.1">C. sinensis var. assamica W4A Yuanyang Yunnan C</text></g>
<g id="A08" class="fg"><text x="1087" y="299.5">C. sinensis var. assamica re050 Wenquan Yunnan C</text></g>
<g id="A09" class="fg"><text x="1087" y="325.9">C. sinensis var. assamica G362 Menghai Yunnan C</text></g>
<g id="A10" class="fg"><text x="1087" y="352.4">C. sinensis var. assamica G881 Mohei Yunnan C</text></g>
<g id="A11" class="fg"><text x="1087" y="378.8">C. sinensis var. assamica re122 Shan MN</text></g>
<g id="A12" class="fg"><text x="1087" y="405.2">C. sinensis var. assamica G515 Lancang Yunnan C</text></g>
<g id="A13" class="fg"><text x="1087" y="431.7">C. sinensis var. assamica G847 Ninger Yunnan C</text></g>
<g id="A14" class="fg"><text x="1087" y="458.1">C. sinensis var. assamica G678 Zhenyuan Yunnan C</text></g>
<g id="A15" class="fpu"><text x="1087" y="484.5">C. grandibracteata re375 Yunnan C</text></g>
<g id="A16" class="fpu"><text x="1087" y="511">C. grandibracteata re374 Yunnan C</text></g>
<g id="A17" class="fg"><text x="1087" y="537.4">C. sinensis var. assamica G274 Menghai Yunnan C</text></g>
<g id="A18" class="fg"><text x="1087" y="563.8">C. sinensis var. assamica re127 JavaBogor IDS</text></g>
<g id="A19" class="fg"><text x="1087" y="590.2">C. sinensis var. assamica re183 Singpo ID</text></g>
<g id="A20" class="fg"><text x="1087" y="616.7">C. sinensis var. assamica re174 Jayrampu ID</text></g>
<g id="A21" class="fg"><text x="1087" y="643.1">C. sinensis var. assamica TV5 Assama ID</text></g>
<g id="A22" class="fg"><text x="1087" y="669.5">C. sinensis var. assamica G337 Menghai Yunnan C</text></g>
<g id="A23" class="fg"><text x="1087" y="696">C. sinensis var. assamica G568 Menglian Yunnan C</text></g>
<g id="A24" class="fg"><text x="1087" y="722.4">C. sinensis var. assamica G828 Jiangcheng Yunnan C</text></g>
<g id="A25" class="fpk"><text x="1087" y="748.8">C. sinensis var. sinensis re403 PhuTho VT</text></g>
<g id="A26" class="fpk"><text x="1087" y="775.3">C. sinensis var. sinensis HZ021 Taiwan C</text></g>
<g id="A27" class="fpk"><text x="1087" y="801.7">C. sinensis var. sinensis re039 Xingyang Henan C</text></g>
<g id="A28" class="fpk"><text x="1087" y="828.1">C. sinensis var. sinensis re349 Wuyishan Fujian C</text></g>
<g id="A29" class="fpk"><text x="1087" y="854.5">C. sinensis var. sinensis re346 Hangzhou Zhejiang C</text></g>
<g id="A30" class="fpk"><text x="1087" y="881">C. sinensis var. sinensis re336 Jiuan Guizhou C</text></g>
<g id="A31" class="for"><text x="1087" y="907.4">C. leptophylla re426 Guangxi C</text></g>
<g id="A32" class="for"><text x="1087" y="933.8">C. leptophylla re425 Guangxi C</text></g>
<g id="A33" class="fpk"><text x="1087" y="960.3">C. sinensis var. sinensis re405 Thailand</text></g>
<g id="A34" class="fpk"><text x="1087" y="986.7">C. sinensis var. sinensis QXDM2 Jinxiu Guangxi C</text></g>
<g id="A35" class="fpk"><text x="1087" y="1013.1">C. sinensis var. sinensis re086 Taiwan C</text></g>
<g id="A36" class="fpk"><text x="1087" y="1039.6">C. sinensis var. sinensis re002 Xingchun Fujian C</text></g>
<g id="A37" class="fpb"><text x="1087" y="1066">C. sinensis var. pubilimba JX4 Taiwan C</text></g>
<g id="A38" class="fpb"><text x="1087" y="1092.4">C. sinensis var. pubilimba CE Guangxi C</text></g>
<g id="A39" class="fpb"><text x="1087" y="1118.8">C. sinensis var. pubilimba HZ002 Ziyuan Guangxi C</text></g>
<g id="A40" class="fpk"><text x="1087" y="1145.3">C. sinensis var. sinensis re049 Malipo Yunnan C</text></g>
<g id="A41" class="fpk"><text x="1087" y="1171.7">C. sinensis var. sinensis W34 Malipo Yunnan C</text></g>
<g id="A42" class="fpk"><text x="1087" y="1198.1">C. sinensis var. sinensis 33 Pingle Sichuan C</text></g>
<g id="A43" class="fpk"><text x="1087" y="1224.6">C. sinensis var. sinensis WD Pingwu Sichuan C</text></g>
<g id="A44" class="fpk"><text x="1087" y="1251">C. sinensis var. sinensis re162 Assam ID</text></g>
<g id="A45" class="fpk"><text x="1087" y="1277.4">C. sinensis var. sinensis re006 Sanmei Guangxi C</text></g>
<g id="A46" class="fpk"><text x="1087" y="1303.9">C. sinensis var. sinensis re087 Taiwan C</text></g>
<g id="A47" class="fpk"><text x="1087" y="1330.3">C. sinensis var. sinensis re009 Jiuan Guizhou C</text></g>
<g id="A48" class="fpk"><text x="1087" y="1356.7">C. sinensis var. sinensis re345 Hangzhou Zhejiang C</text></g>
<g id="A49" class="fpk"><text x="1087" y="1383.1">C. sinensis var. sinensis re340 Xingchun Fujian C</text></g>
<g id="A50" class="fdg"><text x="1087" y="1409.6">C. formosensis re092 Taiwan C</text></g>
<g id="A51" class="fdg"><text x="1087" y="1436">C. formosensis re091 Taiwan C</text></g>
<g id="A52" class="fgo"><text x="1087" y="1462.4">C. fangchengensis re378 Guangxi C</text></g>
<g id="A53" class="fgo"><text x="1087" y="1488.9">C. fangchengensis re381 Guangdong C</text></g>
<g id="A54" class="frd"><text x="1087" y="1515.3">C. ptilophylla re427 Ruchen Hunan C</text></g>
<g id="A55" class="frd"><text x="1087" y="1541.7">C. ptilophylla re404 Ruchen Hunan C</text></g>
<g id="A56" class="flb"><text x="1087" y="1568.2">C. costata re431 Zhaoping Guangxi C</text></g>
<g id="A57" class="flb"><text x="1087" y="1594.6">C. costata re428 Zhaoping Guangxi C</text></g>
<g id="A58" class="fgy"><text x="1087" y="1621">C. gymnogyna re419 Nayong Guizhou C</text></g>
<g id="A59" class="fgy"><text x="1087" y="1647.4">C. gymnogyna re420 Nayong Guizhou C</text></g>
<g id="A60" class="fgy"><text x="1087" y="1673.9">C. gymnogyna re416 Nayong Guizhou C</text></g>
<g id="A61" class="fgy"><text x="1087" y="1700.3">C. gymnogyna re400 Tianlin Guangxi C</text></g>
<g id="A62" class="fgy"><text x="1087" y="1726.7">C. gymnogyna GLM245166 Tianlin Guangxi C</text></g>
<g id="A63" class="fsb"><text x="1087" y="1753.2">C. tachangensis var. remotiserrata YH04 Yanhe Guizhou C</text></g>
<g id="A64" class="fsb"><text x="1087" y="1779.6">C. tachangensis var. remotiserrata YH02 Yanhe Guizhou C</text></g>
<g id="A65" class="fsb"><text x="1087" y="1806">C. tachangensis var. remotiserrata XS09 Xishui Guizhou C</text></g>
<g id="A66" class="fg"><text x="1087" y="1832.5">C. sinensis var. assamica G617 Jinggu Yunnan C</text></g>
<g id="A67" class="fg"><text x="1087" y="1858.9">C. sinensis var. assamica re114 Phongsaly LS</text></g>
<g id="A68" class="fg"><text x="1087" y="1885.3">C. sinensis var. assamica G438 Mengla Yunnan C</text></g>
<g id="A69" class="fg"><text x="1087" y="1911.7">C. sinensis var. assamica G820 Jiangcheng Yunnan C</text></g>
<g id="A70" class="fg"><text x="1087" y="1938.2">C. sinensis var. assamica G461 Mengla Yunnan C</text></g>
<g id="A71" class="fg"><text x="1087" y="1964.6">C. sinensis var. assamica G907 Mojiang Yunnan C</text></g>
<g id="A72" class="fg"><text x="1087" y="1991">C. sinensis var. assamica G840 Simao Yunnan C</text></g>
<g id="A73" class="fdr"><text x="1087" y="2017.5">C. taliensis re406 Changning Yunnan C</text></g>
<g id="A74" class="fdr"><text x="1087" y="2043.9">C. taliensis re364 Changning Yunnan C</text></g>
<g id="A75" class="fdr"><text x="1087" y="2070.3">C. taliensis G084 Changning Yunnan C</text></g>
<g id="A76" class="fk"><text x="1087" y="2096.8">C. sinensis DASZ Yunnan C</text></g>
<g id="A77" class="fdr"><text x="1087" y="2123.2">C. taliensis G026 Changning Yunnan C</text></g>
<g id="A78" class="fdr"><text x="1087" y="2149.6">C. taliensis G605 Lancang Yunnan C</text></g>
<g id="A79" class="fdr"><text x="1087" y="2176">C. taliensis G614 Lancang Yunnan C</text></g>
<g id="A80" class="fdr"><text x="1087" y="2202.5">C. taliensis re367 Lancang Yunnan C</text></g>
<g id="A81" class="fdr"><text x="1087" y="2228.9">C. taliensis re411 Shuangjiang Yunnan C</text></g>
<g id="A82" class="fdr"><text x="1087" y="2255.3">C. taliensis G209 Shuangjiang Yunnan C</text></g>
<g id="A83" class="fcy"><text x="1087" y="2281.8">C. sinensis var. lasiocalyx re116 Phongsaly LS</text></g>
<g id="A84" class="fcy"><text x="1087" y="2308.2">C. sinensis var. lasiocalyx re118 Phongsaly LS</text></g>
<g id="A85" class="fdr"><text x="1087" y="2334.6">C. taliensis re365 Fengqing Yunnan C</text></g>
<g id="A86" class="fol"><text x="1087" y="2361.1">C. crassicolumna re370 Pingbian Yunnan C</text></g>
<g id="A87" class="fol"><text x="1087" y="2387.5">C. crassicolumna re423 Xichou Yunnan C</text></g>
<g id="A88" class="fcy"><text x="1087" y="2413.9">C. sinensis var. lasiocalyx re107 PhuTho VT</text></g>
<g id="A89" class="fol"><text x="1087" y="2440.3">C. crassicolumna re422 Maguan Yunnan C</text></g>
<g id="A90" class="fol"><text x="1087" y="2466.8">C. crassicolumna re413 Jinping Yunnan C</text></g>
<g id="A91" class="fcy"><text x="1087" y="2493.2">C. sinensis var. lasiocalyx re102 HaGiang VT</text></g>
<g id="A92" class="fbl"><text x="1087" y="2519.6">C. tachangensis var. tachangensis re369 Puan Guizhou C</text></g>
<g id="A93" class="fbl"><text x="1087" y="2546.1">C. tachangensis var. tachangensis Z22 Puan Guizhou C</text></g>
<g id="A94" class="fbl"><text x="1087" y="2572.5">C. tachangensis var. tachangensis GLM245175 Shizong Yunnan C</text></g>
<g id="A95" class="fbr"><text x="1087" y="2598.9">C. kwangsiensis re373 Guangnan Yunnan C</text></g>
<g id="A96" class="fbr"><text x="1087" y="2625.4">C. kwangsiensis re372 Guangnan Yunnan C</text></g>
<g id="A97" class="fbr"><text x="1087" y="2651.8">C. kwangsiensis re424 Napo Guangxi C</text></g>
<g id="A98" class="fk"><text x="1087" y="2678.2">Pyrenaria olongicarpa S04676 Yunnan C</text></g>
</g>

<g id="treeB-leaves" class="t tb">
<g id="B01" class="fg"><text x="2279" y="128.8">C. sinensis var. assamica re053 Shuangjian Yunnan C</text></g>
<g id="B02" class="fg"><text x="2279" y="155">C. sinensis var. assamica re050 Wenquan Yunnan C</text></g>
<g id="B03" class="fg"><text x="2279" y="181.2">C. sinensis var. assamica re123 Shan MN</text></g>
<g id="B04" class="fg"><text x="2279" y="207.4">C. sinensis var. assamica re122 Shan MN</text></g>
<g id="B05" class="fg"><text x="2279" y="233.6">C. sinensis var. assamica G025 Shidian Yunnan C</text></g>
<g id="B06" class="fg"><text x="2279" y="259.8">C. sinensis var. assamica G881 Mohei Yunnan C</text></g>
<g id="B07" class="fg"><text x="2279" y="286">C. sinensis var. assamica G847 Ninger Yunnan C</text></g>
<g id="B08" class="fg"><text x="2279" y="312.2">C. sinensis var. assamica G274 Menghai Yunnan C</text></g>
<g id="B09" class="fg"><text x="2279" y="338.4">C. sinensis var. assamica W4A Yuanyang Yunnan C</text></g>
<g id="B10" class="fg"><text x="2279" y="364.6">C. sinensis var. assamica G610 Lancang Yunnan C</text></g>
<g id="B11" class="fg"><text x="2279" y="390.8">C. sinensis var. assamica G515 Lancang Yunnan C</text></g>
<g id="B12" class="fg"><text x="2279" y="417">C. sinensis var. assamica G568 Menglian Yunnan C</text></g>
<g id="B13" class="fg"><text x="2279" y="443.2">C. sinensis var. assamica G337 Menghai Yunnan C</text></g>
<g id="B14" class="fg"><text x="2279" y="469.4">C. sinensis var. assamica G384 Menghai Yunnan C</text></g>
<g id="B15" class="fg"><text x="2279" y="495.6">C. sinensis var. assamica G362 Menghai Yunnan C</text></g>
<g id="B16" class="fg"><text x="2279" y="521.8">C. sinensis var. assamica G651 Jinggu Yunnan C</text></g>
<g id="B17" class="fg"><text x="2279" y="548">C. sinensis var. assamica G678 Zhenyuan Yunnan C</text></g>
<g id="B18" class="fg"><text x="2279" y="574.2">C. sinensis var. assamica G907 Mojiang Yunnan C</text></g>
<g id="B19" class="fg"><text x="2279" y="600.4">C. sinensis var. assamica G617 Jinggu Yunnan C</text></g>
<g id="B20" class="fg"><text x="2279" y="626.6">C. sinensis var. assamica G438 Mengla Yunnan C</text></g>
<g id="B21" class="fg"><text x="2279" y="652.8">C. sinensis var. assamica G840 Simao Yunnan C</text></g>
<g id="B22" class="fg"><text x="2279" y="679">C. sinensis var. assamica G461 Mengla Yunnan C</text></g>
<g id="B23" class="fg"><text x="2279" y="705.2">C. sinensis var. assamica TV5 Assama ID</text></g>
<g id="B24" class="fg"><text x="2279" y="731.4">C. sinensis var. assamica re174 Jayrampu ID</text></g>
<g id="B25" class="fg"><text x="2279" y="757.6">C. sinensis var. assamica re127 JavaBogor IDS</text></g>
<g id="B26" class="fg"><text x="2279" y="783.8">C. sinensis var. assamica re183 Singpo ID</text></g>
<g id="B27" class="fg"><text x="2279" y="810">C. sinensis var. assamica re114 Phongsaly LS</text></g>
<g id="B28" class="fg"><text x="2279" y="836.2">C. sinensis var. assamica G820 Jiangcheng Yunnan C</text></g>
<g id="B29" class="fg"><text x="2279" y="862.4">C. sinensis var. assamica G828 Jiangcheng Yunnan C</text></g>
<g id="B30" class="fpu"><text x="2279" y="888.6">C. grandibracteata re374 Yunnan C</text></g>
<g id="B31" class="fpu"><text x="2279" y="914.8">C. grandibracteata re375 Yunnan C</text></g>
<g id="B32" class="fcy"><text x="2279" y="941">C. sinensis var. lasiocalyx re116 Phongsaly LS</text></g>
<g id="B33" class="fcy"><text x="2279" y="967.2">C. sinensis var. lasiocalyx re118 Phongsaly LS</text></g>
<g id="B34" class="fcy"><text x="2279" y="993.4">C. sinensis var. lasiocalyx re102 HaGiang VT</text></g>
<g id="B35" class="fcy"><text x="2279" y="1019.6">C. sinensis var. lasiocalyx re107 PhuTho VT</text></g>
<g id="B36" class="fpk"><text x="2279" y="1045.8">C. sinensis var. sinensis W34 Malipo Yunnan C</text></g>
<g id="B37" class="fpk"><text x="2279" y="1072">C. sinensis var. sinensis re049 Malipo Yunnan C</text></g>
<g id="B38" class="fpk"><text x="2279" y="1098.2">C. sinensis var. sinensis re349 Wuyishan Fujian C</text></g>
<g id="B39" class="fpk"><text x="2279" y="1124.4">C. sinensis var. sinensis re039 Xingyang Henan C</text></g>
<g id="B40" class="fpb"><text x="2279" y="1150.6">C. sinensis var. pubilimba JX4 Taiwan C</text></g>
<g id="B41" class="fpk"><text x="2279" y="1176.8">C. sinensis var. sinensis re002 Xingchun Fujian C</text></g>
<g id="B42" class="fpk"><text x="2279" y="1203">C. sinensis var. sinensis re340 Xingchun Fujian C</text></g>
<g id="B43" class="fpk"><text x="2279" y="1229.2">C. sinensis var. sinensis re345 Hangzhou Zhejiang C</text></g>
<g id="B44" class="fpk"><text x="2279" y="1255.4">C. sinensis var. sinensis re346 Hangzhou Zhejiang C</text></g>
<g id="B45" class="fpb"><text x="2279" y="1281.6">C. sinensis var. pubilimba HZ002 Ziyuan Guangxi C</text></g>
<g id="B46" class="fpk"><text x="2279" y="1307.8">C. sinensis var. sinensis HZ021 Taiwan C</text></g>
<g id="B47" class="fpk"><text x="2279" y="1334">C. sinensis var. sinensis re403 PhuTho VT</text></g>
<g id="B48" class="fpk"><text x="2279" y="1360.2">C. sinensis var. sinensis re087 Taiwan C</text></g>
<g id="B49" class="fpk"><text x="2279" y="1386.4">C. sinensis var. sinensis QXDM2 Jinxiu Guangxi C</text></g>
<g id="B50" class="fpk"><text x="2279" y="1412.6">C. sinensis var. sinensis re086 Taiwan C</text></g>
<g id="B51" class="fpk"><text x="2279" y="1438.8">C. sinensis var. sinensis re405 Thailand</text></g>
<g id="B52" class="fpk"><text x="2279" y="1465">C. sinensis var. sinensis re009 Jiuan Guizhou C</text></g>
<g id="B53" class="fpk"><text x="2279" y="1491.2">C. sinensis var. sinensis re336 Jiuan Guizhou C</text></g>
<g id="B54" class="fpk"><text x="2279" y="1517.4">C. sinensis var. sinensis re006 Sanmei Guangxi C</text></g>
<g id="B55" class="fpk"><text x="2279" y="1543.6">C. sinensis var. sinensis WD Pingwu Sichuan C</text></g>
<g id="B56" class="fpk"><text x="2279" y="1569.8">C. sinensis var. sinensis 33 Pingle town Sichuan C</text></g>
<g id="B57" class="fpk"><text x="2279" y="1596">C. sinensis var. sinensis re162 Assam ID</text></g>
<g id="B58" class="fpb"><text x="2279" y="1622.2">C. sinensis var. pubilimba CE Guangxi C</text></g>
<g id="B59" class="frd"><text x="2279" y="1648.4">C. ptilophylla re404 Ruchen Hunan C</text></g>
<g id="B60" class="frd"><text x="2279" y="1674.6">C. ptilophylla re427 Ruchen Hunan C</text></g>
<g id="B61" class="fgo"><text x="2279" y="1700.8">C. fangchengensis re378 Guangxi C</text></g>
<g id="B62" class="fdg"><text x="2279" y="1727">C. formosensis re092 Taiwan C</text></g>
<g id="B63" class="fdg"><text x="2279" y="1753.2">C. formosensis re091 Taiwan C</text></g>
<g id="B64" class="fk"><text x="2279" y="1779.4">C. sinensis DASZ Yunnan C</text></g>
<g id="B65" class="fdr"><text x="2279" y="1805.6">C. taliensis G084 Changning Yunnan C</text></g>
<g id="B66" class="fdr"><text x="2279" y="1831.8">C. taliensis G026 Changning Yunnan C</text></g>
<g id="B67" class="fdr"><text x="2279" y="1858">C. taliensis re406 Changning Yunnan C</text></g>
<g id="B68" class="fdr"><text x="2279" y="1884.2">C. taliensis re364 Changning Yunnan C</text></g>
<g id="B69" class="fdr"><text x="2279" y="1910.4">C. taliensis re365 Fengqing Yunnan C</text></g>
<g id="B70" class="fdr"><text x="2279" y="1936.6">C. taliensis re367 Lancang Yunnan C</text></g>
<g id="B71" class="fdr"><text x="2279" y="1962.8">C. taliensis G605 Lancang Yunnan C</text></g>
<g id="B72" class="fdr"><text x="2279" y="1989">C. taliensis G614 Lancang Yunnan C</text></g>
<g id="B73" class="fdr"><text x="2279" y="2015.2">C. taliensis G209 Shuangjiang Yunnan C</text></g>
<g id="B74" class="fdr"><text x="2279" y="2041.4">C. taliensis re411 Shuangjiang Yunnan C</text></g>
<g id="B75" class="fol"><text x="2279" y="2067.6">C. crassicolumna re413 Jinping Yunnan C</text></g>
<g id="B76" class="fol"><text x="2279" y="2093.8">C. crassicolumna re370 Pingbian Yunnan C</text></g>
<g id="B77" class="fol"><text x="2279" y="2120">C. crassicolumna re422 Maguan Yunnan C</text></g>
<g id="B78" class="fgy"><text x="2279" y="2146.2">C. gymnogyna re420 Nayong Guizhou C</text></g>
<g id="B79" class="fgy"><text x="2279" y="2172.4">C. gymnogyna re419 Nayong Guizhou C</text></g>
<g id="B80" class="fgy"><text x="2279" y="2198.6">C. gymnogyna re416 Nayong Guizhou C</text></g>
<g id="B81" class="fbl"><text x="2279" y="2224.8">C. tachangensis var. tachangensis Z22 Puan Guizhou C</text></g>
<g id="B82" class="fbl"><text x="2279" y="2251">C. tachangensis var. tachangensis re369 Puan Guizhou C</text></g>
<g id="B83" class="fbl"><text x="2279" y="2277.2">C. tachangensis var. tachangensis GLM245175 Shizong Yunnan C</text></g>
<g id="B84" class="fgy"><text x="2279" y="2303.4">C. gymnogyna GLM245166 Tianlin Guangxi C</text></g>
<g id="B85" class="fgy"><text x="2279" y="2329.6">C. gymnogyna re400 Tianlin Guangxi C</text></g>
<g id="B86" class="fbr"><text x="2279" y="2355.8">C. kwangsiensis re373 Guangnan Yunnan C</text></g>
<g id="B87" class="fbr"><text x="2279" y="2382">C. kwangsiensis re372 Guangnan Yunnan C</text></g>
<g id="B88" class="fbr"><text x="2279" y="2408.2">C. kwangsiensis re424 Napo Guangxi C</text></g>
<g id="B89" class="fol"><text x="2279" y="2434.4">C. crassicolumna re423 Xichou Yunnan C</text></g>
<g id="B90" class="fsb"><text x="2279" y="2460.6">C. tachangensis var. remotiserrata YH02 Yanhe Guizhou C</text></g>
<g id="B91" class="fsb"><text x="2279" y="2486.8">C. tachangensis var. remotiserrata YH04 Yanhe Guizhou C</text></g>
<g id="B92" class="fsb"><text x="2279" y="2513">C. tachangensis var. remotiserrata XS09 Xishui Guizhou C</text></g>
<g id="B93" class="for"><text x="2279" y="2539.2">C. leptophylla re425 Guangxi C</text></g>
<g id="B94" class="for"><text x="2279" y="2565.4">C. leptophylla re426 Guangxi C</text></g>
<g id="B95" class="flb"><text x="2279" y="2591.6">C. costata re431 Zhaoping Guangxi C</text></g>
<g id="B96" class="flb"><text x="2279" y="2617.8">C. costata re428 Zhaoping Guangxi C</text></g>
<g id="B97" class="fgo"><text x="2279" y="2644">C. fangchengensis re381 Guangdong C</text></g>
<g id="B98" class="fk"><text x="2279" y="2670.2">Pyrenaria olongicarpa S04676 Yunnan C</text></g>
</g>
</svg>
